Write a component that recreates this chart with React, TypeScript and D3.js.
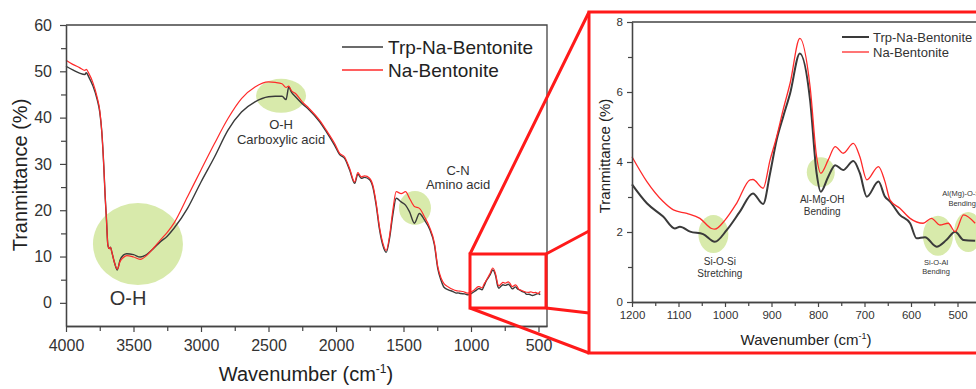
import { useEffect, useRef } from 'react';
import * as d3 from 'd3';

// FTIR spectrum, full range (cm-1) down to 1221; the tail comes from the zoom arrays
const mainWave = [
  4000, 3950, 3900, 3860, 3850, 3830, 3800, 3770, 3750, 3735, 3720, 3710, 3700, 3690, 3680, 3670,
  3660, 3640, 3620, 3600, 3575, 3550, 3500, 3450, 3400, 3350, 3300, 3250, 3200, 3100, 3000, 2900,
  2800, 2700, 2600, 2500, 2450, 2400, 2370, 2350, 2330, 2300, 2250, 2200, 2121, 2072, 2010, 1973,
  1936, 1899, 1862, 1838, 1813, 1788, 1751, 1727, 1702, 1678, 1653, 1628, 1604, 1579, 1554, 1517,
  1485, 1456, 1419, 1382, 1345, 1308, 1271, 1246, 1221,
];
const mainTrp = [
  51.1, 50.3, 49.6, 49.3, 49.7, 48.7, 46.8, 44.0, 41.2, 37.0, 29.5, 23.0, 17.9, 12.5, 11.7, 12.0,
  10.9, 8.6, 7.1, 9.2, 10.3, 10.6, 10.4, 9.9, 10.5, 11.8, 13.2, 14.4, 16.1, 20.4, 26.1, 31.5,
  37.3, 41.2, 43.4, 44.5, 44.6, 44.6, 43.9, 46.6, 45.5, 44.5, 43.0, 41.7, 39.1, 37.0, 34.0, 32.0,
  31.2, 28.7, 25.8, 27.8, 26.9, 27.1, 26.6, 25.0, 21.0, 15.9, 12.4, 10.9, 13.8, 19.0, 22.6, 21.8,
  21.1, 19.7, 17.2, 19.3, 17.9, 16.0, 12.5, 7.4, 4.8,
];
const mainNa = [
  52.4, 51.5, 50.8, 50.2, 50.4, 49.5, 47.5, 44.5, 41.6, 37.0, 29.5, 23.0, 17.9, 12.5, 11.7, 12.0,
  10.9, 8.6, 7.3, 8.9, 9.8, 10.2, 9.9, 9.4, 10.3, 11.9, 13.6, 15.2, 17.2, 22.9, 28.7, 34.4,
  39.8, 44.1, 46.6, 47.7, 47.6, 47.3, 46.5, 46.8, 45.8, 45.2, 43.4, 42.0, 39.4, 37.3, 34.4, 32.3,
  31.5, 29.0, 26.1, 28.1, 27.2, 27.4, 26.9, 25.4, 21.5, 16.4, 12.9, 11.3, 14.3, 20.0, 24.0, 23.6,
  24.0, 22.6, 20.8, 20.4, 18.6, 16.4, 12.9, 7.8, 5.3,
];

// zoomed region 1200 - 460 cm-1
const zoomWaveTrp = [
  1200, 1168, 1133, 1108, 1097, 1075, 1047, 1022, 996, 968, 940, 918, 903, 889, 875, 860, 839, 817,
  803, 794, 778, 763, 746, 724, 710, 695, 670, 656, 645, 624, 602, 588, 570, 545, 524, 505, 487, 462,
];
const zoomTrp = [
  3.36, 2.82, 2.44, 2.1, 2.15, 2.01, 1.94, 1.72, 2.06, 2.58, 3.1, 2.8, 3.68, 4.63, 5.29, 5.96, 7.1, 5.77,
  3.68, 3.15, 3.58, 3.91, 3.77, 4.03, 3.68, 3.01, 3.44, 3.01, 2.87, 2.49, 2.25, 1.82, 1.85, 1.58, 1.77, 2.01, 1.77, 1.75,
];
const zoomWaveNa = [
  1200, 1168, 1133, 1111, 1082, 1054, 1029, 1022, 1000, 975, 946, 940, 918, 903, 889, 875, 860, 839,
  817, 803, 794, 778, 763, 746, 724, 710, 695, 670, 656, 645, 624, 602, 574, 556, 538, 520, 505, 487, 462,
];
const zoomNa = [
  4.15, 3.44, 2.87, 2.63, 2.53, 2.39, 2.1, 2.08, 2.34, 2.82, 3.49, 3.5, 3.25, 4.06, 4.72, 5.49, 6.25, 7.53,
  6.15, 4.15, 3.68, 4.06, 4.44, 4.25, 4.53, 4.15, 3.49, 3.87, 3.44, 2.91, 2.68, 2.39, 2.25, 2.39, 2.2, 2.25, 2.01, 2.49, 2.25,
];

const seriesNames = ['Trp-Na-Bentonite', 'Na-Bentonite'];

const mainXTicks = [4000, 3500, 3000, 2500, 2000, 1500, 1000, 500];
const mainXMinor = [3750, 3250, 2750, 2250, 1750, 1250, 750];
const mainYTicks = [0, 10, 20, 30, 40, 50, 60];
const mainYMinor = [5, 15, 25, 35, 45, 55];

const zoomXTicks = [1200, 1100, 1000, 900, 800, 700, 600, 500, 400];
const zoomXMinor = [1150, 1050, 950, 850, 750, 650, 550, 450];
const zoomYTicks = [0, 2, 4, 6, 8];
const zoomYMinor = [1, 3, 5, 7];

// band labels: [wavenumber, T] for the highlight and the text lines
const mainBands = [
  { w: 3467, t: 12.7, rx: 45, ry: 41, lines: ['O-H'], lw: 3540, lt: [-0.5], size: 20 },
  { w: 2407, t: 44.7, rx: 25, ry: 17, lines: ['O-H', 'Carboxylic acid'], lw: 2407, lt: [37.6, 34.2], size: 13 },
  { w: 1415, t: 20.5, rx: 16, ry: 17, lines: ['C-N', 'Amino acid'], lw: 1096, lt: [27.7, 24.5], size: 13 },
];
const zoomBands = [
  { w: 794, t: 3.71, rx: 14, ry: 15, lines: ['Al-Mg-OH', 'Bending'], lw: 791, lt: [2.83, 2.49], size: 10 },
  { w: 1025, t: 1.94, rx: 15, ry: 19, lines: ['Si-O-Si', 'Stretching'], lw: 1011, lt: [1.06, 0.71], size: 10 },
  { w: 542, t: 1.89, rx: 15, ry: 20, lines: ['Si-O-Al', 'Bending'], lw: 546, lt: [1.06, 0.8], size: 7.5 },
  { w: 477, t: 2.0, rx: 14, ry: 20, lines: ['Al(Mg)-O-Si', 'Bending'], lw: 490, lt: [3.03, 2.74], size: 7.5 },
];

const FONT = '"Liberation Sans", Arial, sans-serif';
const BLACK = '#3a3a3a';
const RED = '#ff2a2a';
const GREEN = '#d8eaab';
const AXIS = '#444';

const App = () => {
  const svgRef = useRef<SVGSVGElement>(null);

  useEffect(() => {
    const svg = d3.select(svgRef.current);
    svg.selectAll('*').remove();
    svg.attr('font-family', FONT);

    const fmt = d3.format('d');

    const drawAxes = (g, x, y, opt) => {
      const xa = g.append('g').attr('transform', `translate(0,${opt.bottom})`);
      xa.call(d3.axisBottom(x).tickValues(opt.xTicks).tickSize(opt.tick).tickSizeOuter(0).tickPadding(opt.pad).tickFormat(fmt));
      xa.append('g').call(d3.axisBottom(x).tickValues(opt.xMinor).tickSize(opt.tick - 1).tickSizeOuter(0).tickFormat(() => ''));
      const ya = g.append('g').attr('transform', `translate(${opt.left},0)`);
      ya.call(d3.axisLeft(y).tickValues(opt.yTicks).tickSize(opt.tick).tickSizeOuter(0).tickPadding(opt.pad).tickFormat(fmt));
      ya.append('g').call(d3.axisLeft(y).tickValues(opt.yMinor).tickSize(opt.tick - 1).tickSizeOuter(0).tickFormat(() => ''));
      g.selectAll('.domain').attr('stroke', AXIS).attr('stroke-width', 1.3);
      g.selectAll('.tick line').attr('stroke', AXIS).attr('stroke-width', 1.2);
      g.selectAll('.tick text').attr('fill', '#333').attr('font-size', opt.font).attr('font-family', FONT);
      // top and right frame
      g.append('path')
        .attr('d', `M${opt.left},${opt.top}H${opt.right}V${opt.bottom}`)
        .attr('fill', 'none')
        .attr('stroke', AXIS)
        .attr('stroke-width', 1.3);
    };

    const drawBands = (g, x, y, bands) => {
      g.selectAll('ellipse.band')
        .data(bands)
        .enter()
        .append('ellipse')
        .attr('class', 'band')
        .attr('cx', d => x(d.w))
        .attr('cy', d => y(d.t))
        .attr('rx', d => d.rx)
        .attr('ry', d => d.ry)
        .attr('fill', GREEN);
    };

    const drawBandLabels = (g, x, y, bands) => {
      bands.forEach(b => {
        b.lines.forEach((txt, i) => {
          g.append('text')
            .attr('x', x(b.lw))
            .attr('y', y(b.lt[i]))
            .attr('text-anchor', 'middle')
            .attr('font-size', b.size)
            .attr('fill', '#333')
            .text(txt);
        });
      });
    };

    const axisTitle = (g, px, py, size, rotate) => {
      const t = g.append('text')
        .attr('text-anchor', 'middle')
        .attr('font-size', size)
        .attr('fill', '#222')
        .attr('transform', `translate(${px},${py})${rotate ? ' rotate(-90)' : ''}`);
      return t;
    };

    const wavenumberTitle = (g, px, py, size) => {
      const t = axisTitle(g, px, py, size, false);
      t.append('tspan').text('Wavenumber (cm');
      t.append('tspan').attr('dy', -size * 0.4).attr('font-size', size * 0.6).text('-1');
      t.append('tspan').attr('dy', size * 0.4).text(')');
    };

    // ---------- main chart ----------
    const x = d3.scaleLinear().domain([4000, 437]).range([66, 547]);
    const y = d3.scaleLinear().domain([-5, 60]).range([326, 25]);
    const main = svg.append('g');

    drawBands(main, x, y, mainBands);

    const trpPts = d3.zip(mainWave, mainTrp).concat(d3.zip(zoomWaveTrp, zoomTrp).filter(d => d[0] >= 480));
    const naPts = d3.zip(mainWave, mainNa).concat(d3.zip(zoomWaveNa, zoomNa).filter(d => d[0] >= 480));
    const line = d3.line().x(d => x(d[0])).y(d => y(d[1])).curve(d3.curveMonotoneX);
    main.append('path').attr('d', line(trpPts)).attr('fill', 'none').attr('stroke', BLACK).attr('stroke-width', 1.4);
    main.append('path').attr('d', line(naPts)).attr('fill', 'none').attr('stroke', RED).attr('stroke-width', 1.2);

    drawAxes(main, x, y, {
      left: 66, right: 547, top: 25, bottom: 326, tick: 6, pad: 8, font: 16,
      xTicks: mainXTicks, xMinor: mainXMinor, yTicks: mainYTicks, yMinor: mainYMinor,
    });
    drawBandLabels(main, x, y, mainBands);

    axisTitle(main, 27, 175, 20, true).text('Tranmittance (%)');
    wavenumberTitle(main, 306, 381, 20);

    // legend
    const legend = main.append('g');
    seriesNames.forEach((name, i) => {
      legend.append('line')
        .attr('x1', 342).attr('x2', 383)
        .attr('y1', 47 + i * 23).attr('y2', 47 + i * 23)
        .attr('stroke', i === 0 ? BLACK : RED)
        .attr('stroke-width', i === 0 ? 1.6 : 1.3);
      legend.append('text')
        .attr('x', 388).attr('y', 54 + i * 23)
        .attr('font-size', 19)
        .attr('fill', '#222')
        .text(name);
    });

    // ---------- zoom callout ----------
    const call = svg.append('g').attr('fill', 'none').attr('stroke', '#ff1a1a').attr('stroke-width', 3);
    call.append('rect').attr('x', 470).attr('y', 254).attr('width', 76).attr('height', 54);
    call.append('rect').attr('x', 589).attr('y', 12).attr('width', 420).attr('height', 341);
    call.append('path').attr('d', 'M470,254L589,12M470,308L589,353M546,254L589,231M546,308L589,313');

    // ---------- inset ----------
    const xi = d3.scaleLinear().domain([1200, 400]).range([632, 1004]);
    const yi = d3.scaleLinear().domain([0, 8]).range([302, 22]);
    const inset = svg.append('g');

    drawBands(inset, xi, yi, zoomBands);

    const lineI = d3.line().x(d => xi(d[0])).y(d => yi(d[1])).curve(d3.curveMonotoneX);
    inset.append('path').attr('d', lineI(d3.zip(zoomWaveTrp, zoomTrp))).attr('fill', 'none').attr('stroke', BLACK).attr('stroke-width', 2);
    inset.append('path').attr('d', lineI(d3.zip(zoomWaveNa, zoomNa))).attr('fill', 'none').attr('stroke', RED).attr('stroke-width', 1.3);

    drawAxes(inset, xi, yi, {
      left: 632, right: 1004, top: 22, bottom: 302, tick: 5, pad: 4, font: 11.5,
      xTicks: zoomXTicks, xMinor: zoomXMinor, yTicks: zoomYTicks, yMinor: zoomYMinor,
    });
    drawBandLabels(inset, xi, yi, zoomBands);

    axisTitle(inset, 610, 156, 15, true).text('Tranmittance (%)');
    wavenumberTitle(inset, 806, 345, 15);

    const legendI = inset.append('g');
    seriesNames.forEach((name, i) => {
      legendI.append('line')
        .attr('x1', 842).attr('x2', 869)
        .attr('y1', 37 + i * 15).attr('y2', 37 + i * 15)
        .attr('stroke', i === 0 ? BLACK : RED)
        .attr('stroke-width', i === 0 ? 2 : 1.3);
      legendI.append('text')
        .attr('x', 873).attr('y', 41.5 + i * 15)
        .attr('font-size', 13)
        .attr('fill', '#333')
        .text(name);
    });
  }, []);

  return (
    <svg
      ref={svgRef}
      width={976}
      height={389}
      style={{ position: 'absolute', left: 0, top: 0, background: '#fff' }}
    />
  );
};

export default App;
